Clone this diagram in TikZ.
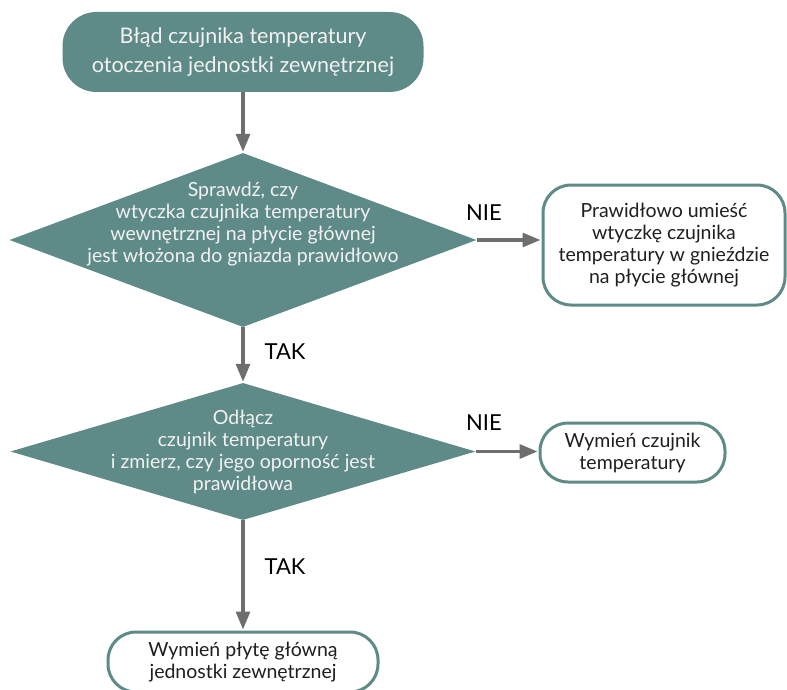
\documentclass[tikz,border=0pt]{standalone}
\usepackage{fontspec}
\setmainfont{Lato}
\usetikzlibrary{arrows.meta,shapes.geometric}
\definecolor{flowteal}{HTML}{5E8A87}
\definecolor{flowgray}{HTML}{6E6E6E}

\begin{document}
\begin{tikzpicture}[
  x=1pt, y=1pt, font=\fontsize{19.5}{22}\selectfont,
  startbox/.style ={rectangle,rounded corners=34pt,fill=flowteal,text=white!95!black,
                    align=center,font=\fontsize{21.5}{29}\selectfont},
  decide/.style   ={diamond,fill=flowteal,inner sep=0},
  dtext/.style    ={align=center,text=white!95!black,inner sep=0},
  action/.style   ={rectangle,rounded corners=28pt,draw=flowteal,line width=3pt,
                    fill=white,align=center,text=black!88},
  flow/.style     ={draw=flowgray,line width=3.2pt,
                    -{Triangle[length=18pt,width=14pt]},shorten >=1pt},
  ans/.style      ={font=\fontsize{22}{24}\selectfont,text=black,inner sep=0},
]
\useasboundingbox (0,0) rectangle (787,-690);

% ------------------------------------------------------------ main column
\node[startbox,minimum width=361pt,minimum height=80pt] (start) at (243,-52)
  {Błąd czujnika temperatury\\otoczenia jednostki zewnętrznej};

\node[decide,minimum width=467pt,minimum height=174pt] (q1) at (243,-240) {};
\node[dtext] (q1text) at (243,-224)
  {Sprawdź, czy\\wtyczka czujnika temperatury\\wewnętrznej na płycie głównej\\jest włożona do gniazda prawidłowo};

\node[decide,minimum width=465pt,minimum height=137pt] (q2) at (243,-451.5) {};
\node[dtext] (q2text) at (243,-452)
  {Odłącz\\czujnik temperatury\\i zmierz, czy jego oporność jest\\prawidłowa};

\node[action,minimum width=270pt,minimum height=60pt] (fix3) at (243,-662)
  {Wymień płytę główną\\jednostki zewnętrznej};

% ------------------------------------------------------------ side actions
\node[action,minimum width=242pt,minimum height=120pt] (fix1) at (664,-245)
  {Prawidłowo umieść\\wtyczkę czujnika\\temperatury w gnieździe\\na płycie głównej};
\node[action,minimum width=185pt,minimum height=59pt] (fix2) at (632.5,-452.5)
  {Wymień czujnik\\temperatury};

% ------------------------------------------------------------ connectors
\draw[flow] (start.south) -- (q1.north);
\draw[flow] (q1.south) -- (q2.north);
\draw[flow] (q2.south) -- (fix3.north);
\draw[flow] (q1.east) -- (q1.east -| fix1.west);
\draw[flow] (q2.east) -- (q2.east -| fix2.west);

% answers
\node[ans] (nie1) at (484,-213) {NIE};
\node[ans] (tak1) at (285,-352) {TAK};
\node[ans] (nie2) at (484,-423) {NIE};
\node[ans] (tak2) at (285,-567) {TAK};

\end{tikzpicture}
\end{document}
